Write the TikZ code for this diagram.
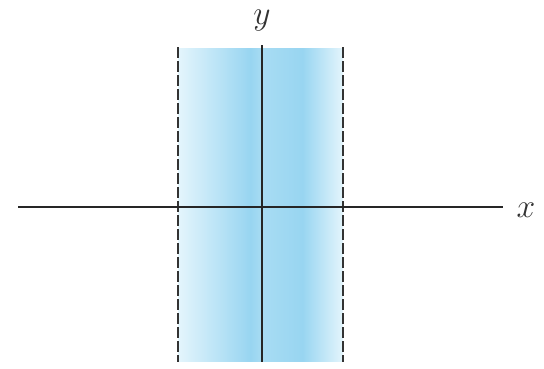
\documentclass[tikz,border=0pt]{standalone}
\usepackage{fontspec}
\setmainfont{Liberation Serif}
\definecolor{bandlight}{RGB}{228,245,252}
\definecolor{bandmid}{RGB}{168,220,243}
\definecolor{banddark}{RGB}{152,213,241}
\pgfdeclarehorizontalshading{lefthalf}{100bp}{color(0bp)=(bandlight); color(25bp)=(bandlight); color(68bp)=(banddark); color(75bp)=(bandmid); color(100bp)=(bandmid)}
\pgfdeclarehorizontalshading{righthalf}{100bp}{color(0bp)=(bandmid); color(25bp)=(bandmid); color(50bp)=(banddark); color(75bp)=(bandlight); color(100bp)=(bandlight)}
\tikzset{
  axisline/.style={line width=1.2pt, draw=black!85},
  boundline/.style={line width=1.2pt, draw=black!80, dash pattern=on 11pt off 3pt},
  axislabel/.style={font=\Huge, inner sep=0pt, text=black!80}
}
\begin{document}
\begin{tikzpicture}[x=1pt,y=-1pt]
\useasboundingbox (0,0) rectangle (544,368);
% band
\shade[shading=lefthalf] (178,48) rectangle (262,361);
\shade[shading=righthalf] (262,48) rectangle (343,361);
% boundaries
\coordinate (lt) at (178,47);
\coordinate (lb) at (178,362);
\coordinate (rt) at (343,47);
\coordinate (rb) at (343,362);
\draw[boundline] (lt) -- (lb);
\draw[boundline] (rt) -- (rb);
% axes
\coordinate (xl) at (18,207);
\coordinate (xr) at (503,207);
\coordinate (yt) at (262,45);
\coordinate (yb) at (262,362);
\draw[axisline] (xl) -- (xr);
\draw[axisline] (yt) -- (yb);
\node[axislabel] (xlab) at (526,210) {\scalebox{1.35}{$x$}};
\node[axislabel] (ylab) at (262,21) {\scalebox{1.35}{$y$}};
\end{tikzpicture}
\end{document}
